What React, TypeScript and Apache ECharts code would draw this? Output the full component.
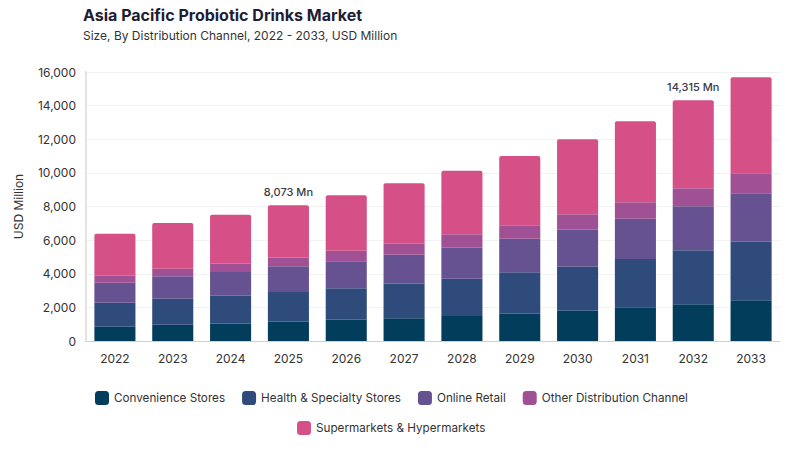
import { useEffect, useRef } from 'react'
import * as echarts from 'echarts'

const years = ['2022', '2023', '2024', '2025', '2026', '2027', '2028', '2029', '2030', '2031', '2032', '2033']
const convenience = [850, 970, 1031, 1150, 1270, 1348, 1487, 1626, 1804, 2002, 2181, 2419]
const healthSpecialty = [1430, 1547, 1665, 1764, 1862, 2061, 2219, 2458, 2616, 2875, 3213, 3487]
const onlineRetail = [1190, 1330, 1407, 1526, 1605, 1724, 1844, 2001, 2200, 2399, 2617, 2878]
const otherChannel = [410, 454, 497, 516, 635, 655, 793, 793, 913, 973, 1070, 1189]
const supermarkets = [2500, 2718, 2912, 3117, 3291, 3590, 3787, 4124, 4461, 4816, 5234, 5710]
const labelledYears = ['2025', '2032']

const seriesDefs = [
  { name: 'Convenience Stores', data: convenience, color: '#023e5b' },
  { name: 'Health & Specialty Stores', data: healthSpecialty, color: '#2f4b7c' },
  { name: 'Online Retail', data: onlineRetail, color: '#665191' },
  { name: 'Other Distribution Channel', data: otherChannel, color: '#a05195' },
  { name: 'Supermarkets & Hypermarkets', data: supermarkets, color: '#d45087' },
]

const FONT = 'Inter, "Noto Sans", sans-serif'

export default function App() {
  const chartRef = useRef<HTMLDivElement>(null)

  useEffect(() => {
    if (!chartRef.current) return
    const chart = echarts.init(chartRef.current, null, { renderer: 'svg' })

    const totals = years.map((_, i) => seriesDefs.reduce((s, d) => s + d.data[i], 0))

    const series: any[] = seriesDefs.map((d, idx) => {
      const isTop = idx === seriesDefs.length - 1
      return {
        name: d.name,
        type: 'bar',
        stack: 'total',
        barWidth: '71%',
        itemStyle: {
          color: d.color,
          borderRadius: isTop ? [2, 2, 0, 0] : 0,
        },
        data: d.data.map((v, i) =>
          isTop && labelledYears.includes(years[i])
            ? {
                value: v,
                label: {
                  show: true,
                  position: 'top',
                  distance: 8,
                  formatter: () => totals[i].toLocaleString('en-US') + ' Mn',
                  color: '#3a3a4a',
                  fontSize: 11,
                  fontWeight: 500,
                  fontFamily: FONT,
                },
              }
            : v
        ),
      }
    })

    // legend in two rows, like the original
    const legendBase = {
      itemWidth: 14,
      itemHeight: 14,
      itemGap: 17,
      icon: 'roundRect',
      textStyle: { fontSize: 11.7, color: '#333', fontFamily: FONT },
    }

    chart.setOption({
      animation: false,
      textStyle: { fontFamily: FONT },
      title: {
        text: 'Asia Pacific Probiotic Drinks Market',
        subtext: 'Size, By Distribution Channel, 2022 - 2033, USD Million',
        left: 78,
        top: 2,
        itemGap: 6,
        textStyle: { fontSize: 16, fontWeight: 700, color: '#1d1d33', fontFamily: FONT },
        subtextStyle: { fontSize: 12, color: '#333', fontFamily: FONT },
      },
      grid: { left: 86, right: 20, top: 72, bottom: 109, containLabel: false },
      legend: [
        { ...legendBase, data: seriesDefs.slice(0, 4).map((d) => d.name), left: 90, top: 386 },
        { ...legendBase, data: [seriesDefs[4].name], left: 292, top: 416 },
      ],
      xAxis: {
        type: 'category',
        data: years,
        axisLine: { lineStyle: { color: '#cfcfcf' } },
        axisTick: { show: false },
        axisLabel: { color: '#333', fontSize: 12, margin: 11, fontFamily: FONT },
      },
      yAxis: {
        type: 'value',
        min: 0,
        max: 16000,
        interval: 2000,
        name: 'USD Million',
        nameLocation: 'middle',
        nameGap: 62,
        nameTextStyle: { color: '#333', fontSize: 12, fontFamily: FONT },
        axisLine: { show: true, lineStyle: { color: '#e3e3e3', width: 2 } },
        axisLabel: {
          color: '#333',
          fontSize: 12,
          margin: 10,
          fontFamily: FONT,
          formatter: (v: number) => v.toLocaleString('en-US'),
        },
        splitLine: { lineStyle: { color: '#f2f2f2' } },
      },
      series,
    })

    return () => {
      chart.dispose()
    }
  }, [])

  return <div ref={chartRef} style={{ width: 800, height: 450, margin: -8 }} />
}
